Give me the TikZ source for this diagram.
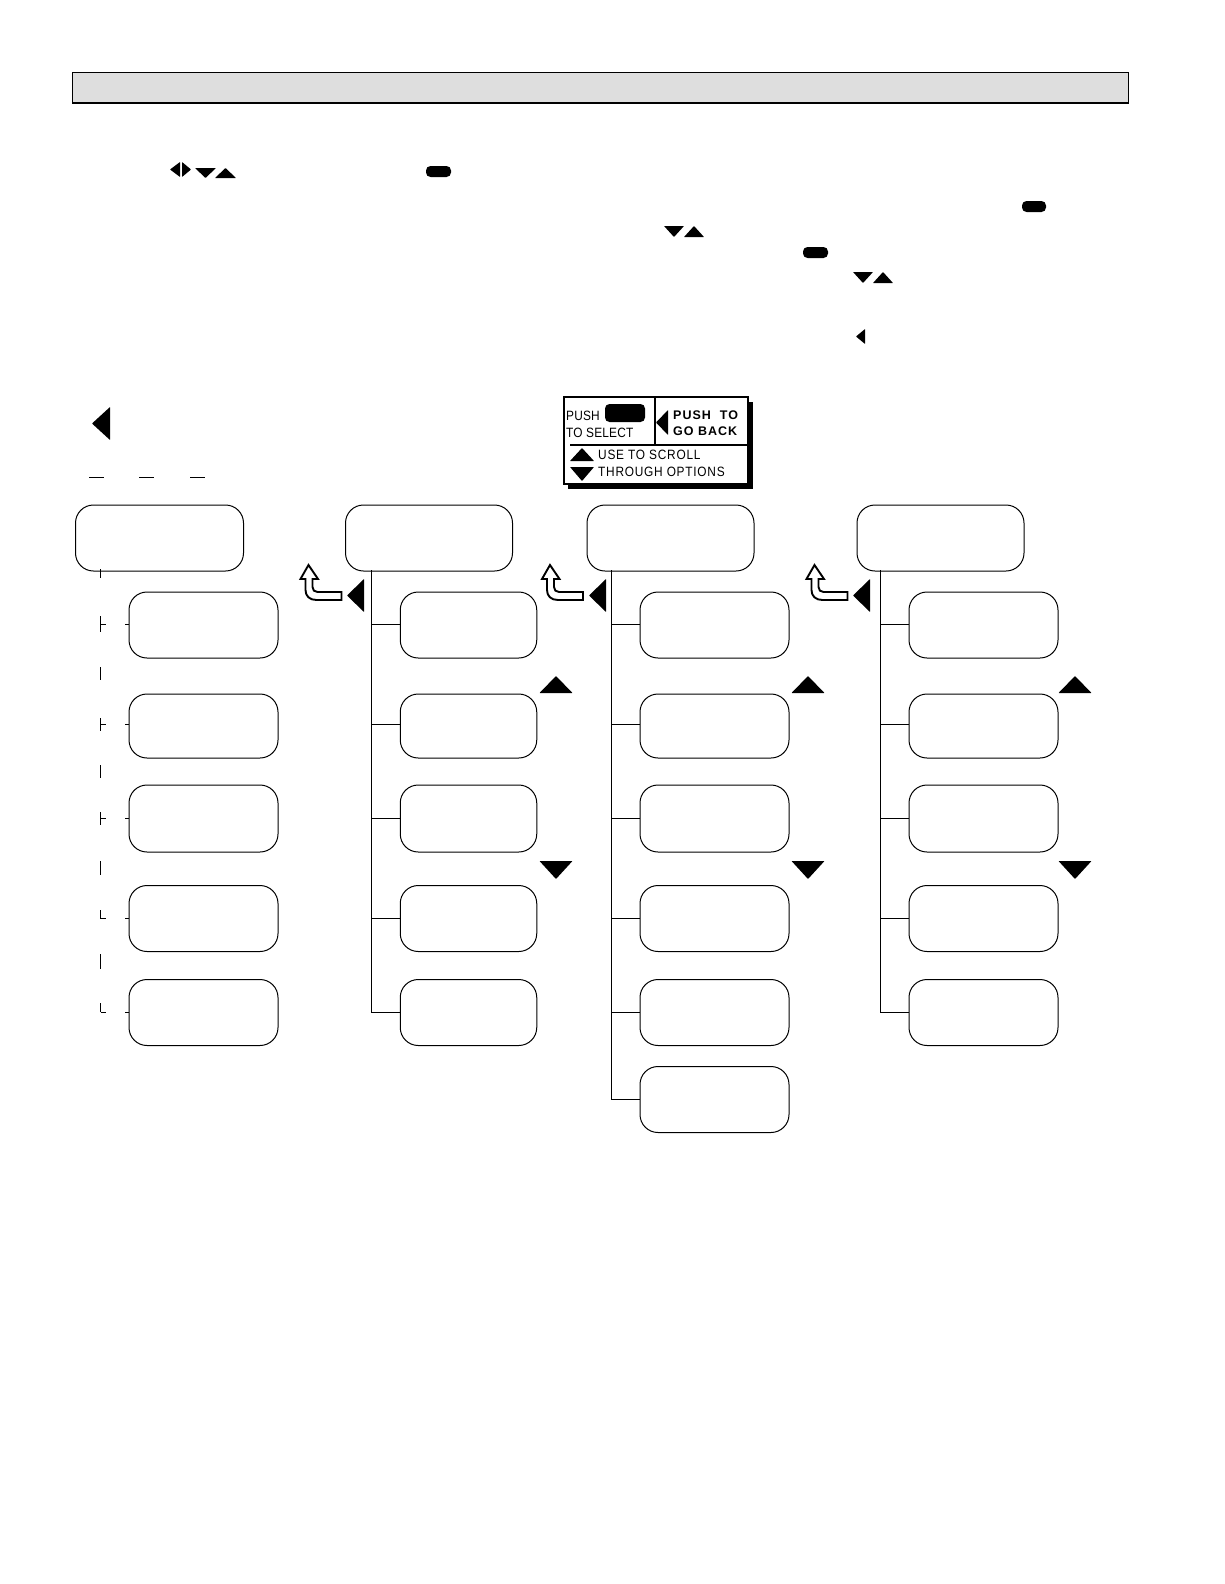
\documentclass[tikz,border=0pt]{standalone}
\usepackage{fontspec}
\setmainfont{Liberation Sans}
\newfontfamily\legendfont[FakeStretch=0.88,LetterSpace=1.5]{Liberation Sans}
\newfontfamily\legendwide[FakeStretch=0.88,LetterSpace=5.5]{Liberation Sans}
\newfontfamily\legendbold[LetterSpace=8]{Liberation Sans Bold}
\definecolor{barfill}{gray}{0.87}
\tikzset{
  menubox/.style={draw, rectangle, rounded corners=18pt, inner sep=0pt, line width=1pt},
  legendtext/.style={anchor=base west, inner sep=0pt, font=\fontsize{13.5}{13}\legendfont},
  legendwide/.style={anchor=base west, inner sep=0pt, font=\fontsize{13.5}{13}\legendwide},
  legendhead/.style={anchor=base west, inner sep=0pt, font=\fontsize{12.5}{12}\legendbold},
  link/.style={line width=1pt}
}
\newcommand{\uptri}[4]{\fill[rounded corners=0.4pt] (#1,#4) -- (#2,#4) -- ({(#1+#2)/2},#3) -- cycle;}
\newcommand{\downtri}[4]{\fill[rounded corners=0.4pt] (#1,#3) -- (#2,#3) -- ({(#1+#2)/2},#4) -- cycle;}
\newcommand{\lefttri}[4]{\fill[rounded corners=0.4pt] (#2,#3) -- (#2,#4) -- (#1,{(#3+#4)/2}) -- cycle;}
\newcommand{\righttri}[4]{\fill[rounded corners=0.4pt] (#1,#3) -- (#1,#4) -- (#2,{(#3+#4)/2}) -- cycle;}
\newcommand{\keypill}[4]{\fill[rounded corners=4.5pt] (#1,#3) rectangle (#2,#4);}
\newcommand{\backarrow}[2]{\draw[line width=1.9pt, fill=white, shift={(#1,#2)}]
  (0,0) -- (9.5,14) -- (4,14) -- (4,22) .. controls (4,25) and (6,27) .. (9,27) -- (33,27) -- (33,35)
  -- (8,35) .. controls (1,35) and (-3,31) .. (-3,25) -- (-3,14) -- (-8,14) -- cycle;}

\begin{document}
\begin{tikzpicture}[x=1pt,y=-1pt]
  \useasboundingbox (0,0) rectangle (1224,1584);

  \node[draw, fill=barfill, rectangle, inner sep=0pt, minimum width=1056pt, minimum height=30pt, line width=1pt] (bar) at (600.5,87.5) {};
  \draw[line width=2.4pt] (bar.south west) -- (bar.south east);

  % keys in the running text
  \lefttri{170}{180}{162}{177}
  \righttri{182}{191}{162}{177}
  \downtri{195}{216}{168}{178}
  \uptri{215}{236}{168}{178}
  \keypill{426}{451}{166}{177}
  \keypill{1022}{1046}{201}{212}
  \downtri{664}{684}{226}{237}
  \uptri{684}{704}{226}{237}
  \keypill{803}{828}{247}{258}
  \downtri{853}{873}{272}{283}
  \uptri{873}{893}{272}{283}
  \lefttri{856}{865}{329}{344}

  \lefttri{92}{110}{407}{440}
  \foreach \s in {89,139,190}
    \draw[line width=0.9pt] (\s,477) -- ++(15,0);

  % legend
  \fill (568,402) rectangle (753,489);
  \node[draw, fill=white, rectangle, inner sep=0pt, minimum width=184pt, minimum height=87pt, line width=1.3pt] (legend) at (656,440.5) {};
  \coordinate (legendv) at (655,397);
  \coordinate (legendh) at (570,445);
  \draw[line width=1.3pt] (legendv) -- (legendv |- legendh);
  \draw[line width=1.3pt] (legendh) -- (legendh -| legend.east);
  \keypill{605}{645}{404}{422}
  \lefttri{656}{668}{410}{435}
  \uptri{570}{594}{448}{461}
  \downtri{570}{594}{467}{481}
  \node[legendtext] (push) at (566,420) {PUSH};
  \node[legendtext] (toselect) at (566,437.5) {TO SELECT};
  \node[legendhead] (pushto) at (673,419) {PUSH\ \ TO};
  \node[legendhead] (goback) at (673,435) {GO\ BACK};
  \node[legendwide] (usescroll) at (598,459.5) {USE TO SCROLL};
  \node[legendwide] (throughopt) at (598,476) {THROUGH OPTIONS};

  % heads
  \node[menubox, minimum width=168pt, minimum height=66pt] (heada) at (159.5,538) {};
  \node[menubox, minimum width=167pt, minimum height=66pt] (headb) at (429,538) {};
  \node[menubox, minimum width=167pt, minimum height=66pt] (headc) at (670.5,538) {};
  \node[menubox, minimum width=167pt, minimum height=66pt] (headd) at (940.5,538) {};

  % menu boxes
  \foreach \k/\y/\h in {1/625/66,2/726/64,3/818.5/67,4/918.5/66,5/1012.5/66} {
    \node[menubox, minimum width=149pt, minimum height=\h pt] (kida\k) at (203.5,\y) {};
    \node[menubox, minimum width=136.5pt, minimum height=\h pt] (kidb\k) at (468.5,\y) {};
    \node[menubox, minimum width=149pt, minimum height=\h pt] (kidc\k) at (714.5,\y) {};
    \node[menubox, minimum width=149pt, minimum height=\h pt] (kidd\k) at (983.5,\y) {};
  }
  \node[menubox, minimum width=149pt, minimum height=66pt] (kidc6) at (714.5,1099.5) {};

  % trunks
  \coordinate (trunkb) at (371,570);
  \coordinate (trunkc) at (611.5,570);
  \coordinate (trunkd) at (880,570);
  \draw[link] (trunkb) |- (kidb5.west);
  \draw[link] (trunkc) |- (kidc6.west);
  \draw[link] (trunkd) |- (kidd5.west);
  \foreach \k/\s in {1/1pt,2/2pt,3/0pt,4/0pt} {
    \draw[link] (trunkb |- kidb\k.west) ++(0,0) coordinate (tmpb) ([yshift=\s]tmpb) -- ([yshift=\s]kidb\k.west);
    \draw[link] (trunkc |- kidc\k.west) ++(0,0) coordinate (tmpc) ([yshift=\s]tmpc) -- ([yshift=\s]kidc\k.west);
    \draw[link] (trunkd |- kidd\k.west) ++(0,0) coordinate (tmpd) ([yshift=\s]tmpd) -- ([yshift=\s]kidd\k.west);
  }
  \draw[link] (trunkc |- kidc5.west) -- (kidc5.west);

  % first column, line in pieces
  \foreach \a/\b in {569/578,616/632,667/680,718/731,765/778,812/825,861/875,910/919,954/969,1003/1012}
    \draw[link] (100,\a) -- (100,\b);
  \foreach \k/\s in {1/1pt,2/2pt,3/0pt,4/0pt,5/0pt} {
    \draw[link] ([yshift=\s]kida\k.west) -- ++(-4,0);
    \draw[link] ([yshift=\s]kida\k.west) ++(-28,0) -- ++(5,0);
  }

  \backarrow{308.5}{565}
  \backarrow{550}{565}
  \backarrow{814.5}{565}
  \lefttri{347}{364}{579}{612}
  \lefttri{589}{606}{579}{612}
  \lefttri{853}{870}{579}{612}

  \uptri{539.5}{572.5}{676}{693}
  \uptri{791.5}{824.5}{676}{693}
  \uptri{1058.5}{1091.5}{676}{693}
  \downtri{539.5}{572.5}{861}{879}
  \downtri{791.5}{824.5}{861}{879}
  \downtri{1058.5}{1091.5}{861}{879}
\end{tikzpicture}
\end{document}
